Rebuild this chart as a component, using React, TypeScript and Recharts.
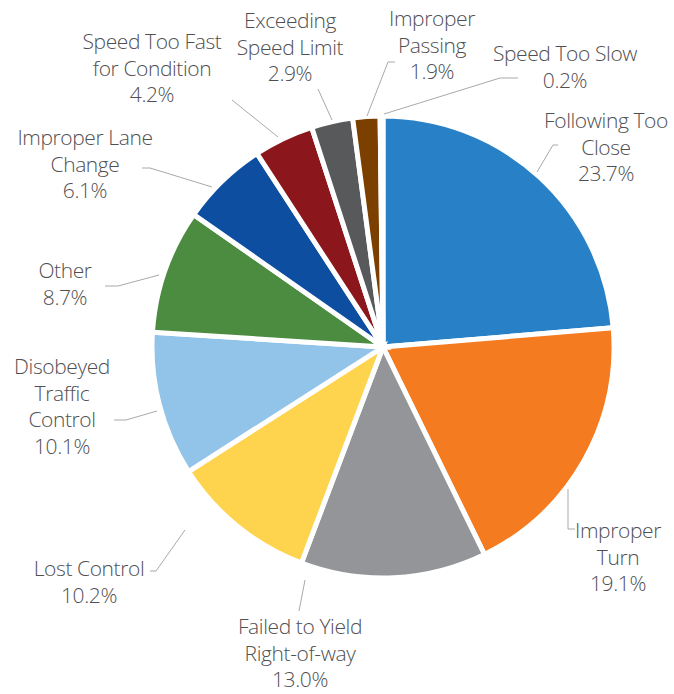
import { PieChart, Pie, Cell } from 'recharts';

const categories = [
  'Following Too Close',
  'Improper Turn',
  'Failed to Yield Right-of-way',
  'Lost Control',
  'Disobeyed Traffic Control',
  'Other',
  'Improper Lane Change',
  'Speed Too Fast for Condition',
  'Exceeding Speed Limit',
  'Improper Passing',
  'Speed Too Slow',
];

const shares = [23.7, 19.1, 13.0, 10.2, 10.1, 8.7, 6.1, 4.2, 2.9, 1.9, 0.2];

// how each category name is broken over lines in the label
const labelLines = [
  ['Following Too', 'Close'],
  ['Improper', 'Turn'],
  ['Failed to Yield', 'Right-of-way'],
  ['Lost Control'],
  ['Disobeyed', 'Traffic', 'Control'],
  ['Other'],
  ['Improper Lane', 'Change'],
  ['Speed Too Fast', 'for Condition'],
  ['Exceeding', 'Speed Limit'],
  ['Improper', 'Passing'],
  ['Speed Too Slow'],
];

const colors = [
  '#2880c6',
  '#f47b20',
  '#939598',
  '#fed44f',
  '#92c3e9',
  '#4c8c40',
  '#0e4ea1',
  '#8b161c',
  '#58595b',
  '#7b3f00',
  '#b0b0b0',
];

// label placement: text center x, first line y, leader line points
const labelLayout = [
  { x: 606, y: 120, line: [[537, 172], [553, 145], [558, 145]] },
  { x: 618, y: 530, line: [[568, 489], [568, 529], [575, 529]] },
  { x: 300, y: 626, line: [[305, 580], [299, 611]] },
  { x: 89, y: 568, line: [[185, 530], [156, 571], [150, 571]] },
  { x: 62, y: 366, line: [[157, 411], [126, 420], [114, 420]] },
  { x: 65, y: 270, line: [[159, 275], [118, 286], [105, 286]] },
  { x: 85, y: 137, line: [[212, 187], [150, 168], [142, 168]] },
  { x: 152, y: 41, line: [[278, 137], [232, 100]] },
  { x: 290, y: 20, line: [[332, 120], [318, 89]] },
  { x: 432, y: 18, line: [[367, 116], [388, 62], [395, 62]] },
  { x: 565, y: 53, line: [[384, 114], [500, 78], [518, 78]] },
];

const data = categories.map((name, i) => ({ name, value: shares[i] }));

const LINE_H = 26.5;

function renderLabel(props: any) {
  const i = props.index;
  const lay = labelLayout[i];
  const lines = [...labelLines[i], `${shares[i].toFixed(1)}%`];
  return (
    <g key={`lbl-${i}`}>
      <polyline
        points={lay.line.map((p) => p.join(',')).join(' ')}
        fill="none"
        stroke="#a7a9ac"
        strokeWidth={1}
      />
      <text
        x={lay.x}
        y={lay.y}
        textAnchor="middle"
        fill="#505052"
        fontSize={21}
        fontFamily="'Open Sans', sans-serif"
        fontWeight={300}
        letterSpacing={-0.4}
      >
        {lines.map((t, k) => (
          <tspan key={k} x={lay.x} y={lay.y + k * LINE_H} dominantBaseline="central">
            {t}
          </tspan>
        ))}
      </text>
    </g>
  );
}

export default function App() {
  return (
    <div
      style={{
        position: 'fixed',
        left: 0,
        top: 0,
        width: 674,
        height: 694,
        overflow: 'hidden',
        background: '#fff',
      }}
    >
      <PieChart
        width={674}
        height={694}
        margin={{ top: 0, right: 0, bottom: 0, left: 0 }}
        style={{ overflow: 'visible' }}
      >
        <Pie
          data={data}
          dataKey="value"
          nameKey="name"
          cx={383}
          cy={347}
          outerRadius={231}
          startAngle={90}
          endAngle={-270}
          stroke="#ffffff"
          strokeWidth={5}
          label={renderLabel}
          labelLine={false}
          isAnimationActive={false}
        >
          {data.map((d, i) => (
            <Cell key={d.name} fill={colors[i]} />
          ))}
        </Pie>
      </PieChart>
    </div>
  );
}
